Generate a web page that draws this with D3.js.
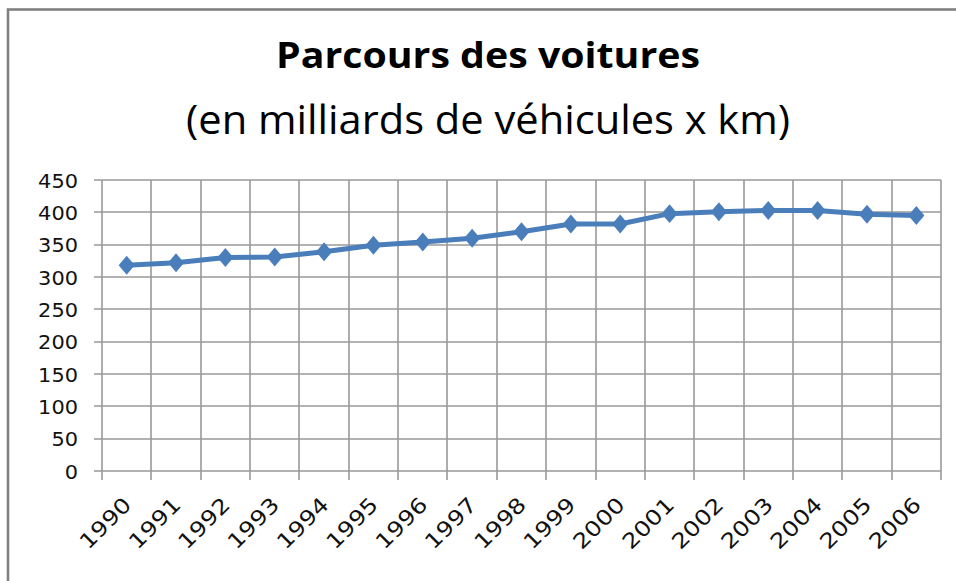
<!DOCTYPE html>
<html>
<head>
<meta charset="utf-8">
<script src="https://d3js.org/d3.v7.min.js"></script>
<style>
body { margin: 0; background: #fff; }
.grid line { stroke: #999; stroke-width: 1.6; }
.grid path { stroke-width: 0; }
</style>
</head>
<body>
<script>
// data
var years = ["1990","1991","1992","1993","1994","1995","1996","1997","1998",
             "1999","2000","2001","2002","2003","2004","2005","2006"];
var values = [318, 322, 330, 331, 339, 349, 354, 360, 370,
              382, 382, 398, 401, 403, 403, 397, 395];
var yTicks = [0, 50, 100, 150, 200, 250, 300, 350, 400, 450];
var title = "Parcours des voitures";
var subtitle = "(en milliards de véhicules x km)";

var W = 956, H = 581;
var plotLeft = 102, plotRight = 941, plotTop = 180, plotBottom = 471;
var blue = "#4a7ebb";

var svg = d3.select("body").append("svg")
    .attr("width", W).attr("height", H);

// chart frame (only top and left edges are visible)
svg.append("rect")
    .attr("x", 8).attr("y", 9.5)
    .attr("width", 1000).attr("height", 700)
    .attr("fill", "none")
    .attr("stroke", "#808080")
    .attr("stroke-width", 2.6);

// titles
svg.append("text")
    .attr("x", 276).attr("y", 68)
    .attr("font-family", "Open Sans")
    .attr("font-weight", "bold")
    .attr("font-size", 35)
    .attr("textLength", 424)
    .attr("lengthAdjust", "spacingAndGlyphs")
    .text(title);

svg.append("text")
    .attr("x", 186).attr("y", 134)
    .attr("font-family", "Open Sans")
    .attr("font-size", 41)
    .attr("textLength", 604)
    .attr("lengthAdjust", "spacingAndGlyphs")
    .text(subtitle);

var x = d3.scaleBand().domain(years).range([plotLeft, plotRight]).padding(0);
var y = d3.scaleLinear().domain([0, 450]).range([plotBottom, plotTop]);

// horizontal gridlines + y ticks
svg.append("g")
    .attr("class", "grid")
    .attr("transform", "translate(" + plotRight + ",0)")
    .call(d3.axisLeft(y).tickValues(yTicks)
        .tickSize(plotRight - plotLeft + 8).tickFormat(""));
svg.selectAll(".grid .tick")
    .attr("transform", function(d) { return "translate(0," + Math.round(y(d)) + ")"; });

// vertical gridlines at category boundaries, running below the zero line
var bounds = years.map(function(d) { return x(d); }).concat([plotRight]);
svg.append("g")
    .attr("class", "grid")
    .selectAll("line")
    .data(bounds)
    .enter().append("line")
    .attr("x1", function(d) { return Math.round(d); })
    .attr("x2", function(d) { return Math.round(d); })
    .attr("y1", plotTop)
    .attr("y2", plotBottom + 9);

// y labels
svg.append("g")
    .selectAll("text")
    .data(yTicks)
    .enter().append("text")
    .attr("x", 78)
    .attr("y", function(d) { return y(d) + 7.5; })
    .attr("text-anchor", "end")
    .attr("font-family", "DejaVu Sans")
    .attr("font-size", 19.5)
    .attr("fill", "#111")
    .attr("textLength", function(d) { return String(d).length * 13.3; })
    .attr("lengthAdjust", "spacingAndGlyphs")
    .text(function(d) { return d; });

// x labels, rotated
svg.append("g")
    .selectAll("text")
    .data(years)
    .enter().append("text")
    .attr("transform", function(d) {
      return "translate(" + (x(d) + x.bandwidth() / 2 + 6) + ",506) rotate(-45)";
    })
    .attr("text-anchor", "end")
    .attr("font-family", "DejaVu Sans")
    .attr("font-size", 21)
    .attr("fill", "#111")
    .attr("textLength", 63)
    .attr("lengthAdjust", "spacingAndGlyphs")
    .text(function(d) { return d; });

// line
var line = d3.line()
    .x(function(d, i) { return x(years[i]) + x.bandwidth() / 2; })
    .y(function(d) { return y(d); });

svg.append("path")
    .datum(values)
    .attr("d", line)
    .attr("fill", "none")
    .attr("stroke", blue)
    .attr("stroke-width", 5)
    .attr("stroke-linejoin", "round");

// diamond markers
var diamond = d3.symbol().type(d3.symbolSquare).size(180);
svg.append("g")
    .selectAll("path")
    .data(values)
    .enter().append("path")
    .attr("d", diamond)
    .attr("transform", function(d, i) {
      return "translate(" + (x(years[i]) + x.bandwidth() / 2) + "," + y(d) + ") scale(0.85,1) rotate(45)";
    })
    .attr("fill", blue);
</script>
</body>
</html>
